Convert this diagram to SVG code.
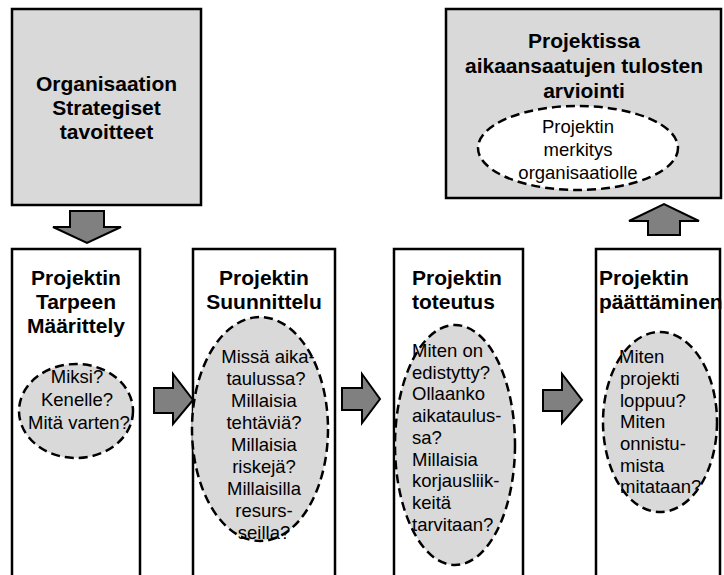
<svg xmlns="http://www.w3.org/2000/svg" width="724" height="575" viewBox="0 0 724 575">
<style>
.box{fill:#d9d9d9;stroke:#000;stroke-width:2.5}
.col{fill:#fff;stroke:#000;stroke-width:2.5}
.ell{fill:#d9d9d9;stroke:#000;stroke-width:2.5;stroke-dasharray:9 5}
.ellw{fill:#fff;stroke:#000;stroke-width:2.5;stroke-dasharray:9 5}
.arr{fill:#808080;stroke:#000;stroke-width:2;stroke-linejoin:miter}
text{font-family:"Liberation Sans",Arial,sans-serif;fill:#000}
.h{font-size:21px;font-weight:bold}
.t{font-size:18.5px}
.c{text-anchor:middle}
</style>
<rect width="724" height="575" fill="#fff"/>
<g id="strategy">
<rect class="box" x="12" y="9" width="189" height="196"/>
<text class="h c" x="106.5" y="91">Organisaation</text>
<text class="h c" x="106.5" y="115">Strategiset</text>
<text class="h c" x="106.5" y="139">tavoitteet</text>
</g>
<g id="evaluation">
<rect class="box" x="446" y="9" width="275" height="189"/>
<text class="h c" x="584" y="48">Projektissa</text>
<text class="h c" x="584" y="73">aikaansaatujen tulosten</text>
<text class="h c" x="584" y="98">arviointi</text>
<ellipse class="ellw" cx="578" cy="148" rx="100" ry="42"/>
<text class="t c" x="578" y="133">Projektin</text>
<text class="t c" x="578" y="156">merkitys</text>
<text class="t c" x="578" y="179">organisaatiolle</text>
</g>
<g id="definition">
<rect class="col" x="12" y="249" width="128" height="340"/>
<text class="h c" x="76" y="285">Projektin</text>
<text class="h c" x="76" y="309">Tarpeen</text>
<text class="h c" x="76" y="333">Määrittely</text>
<ellipse class="ell" cx="76" cy="411" rx="57" ry="47"/>
<text class="t c" x="77" y="383">Miksi?</text>
<text class="t c" x="77" y="406">Kenelle?</text>
<text class="t c" x="79" y="429">Mitä varten?</text>
</g>
<g id="planning">
<rect class="col" x="193" y="249" width="142" height="340"/>
<text class="h c" x="264" y="285">Projektin</text>
<text class="h c" x="264" y="309">Suunnittelu</text>
<ellipse class="ell" cx="260" cy="429" rx="68" ry="112"/>
<text class="t c" x="268" y="363">Missä aika-</text>
<text class="t c" x="266" y="385">taulussa?</text>
<text class="t c" x="264" y="407">Millaisia</text>
<text class="t c" x="264" y="429">tehtäviä?</text>
<text class="t c" x="264" y="451">Millaisia</text>
<text class="t c" x="264" y="473">riskejä?</text>
<text class="t c" x="264" y="495">Millaisilla</text>
<text class="t c" x="264" y="517">resurs-</text>
<text class="t c" x="264" y="539">seilla?</text>
</g>
<g id="implementation">
<rect class="col" x="394" y="249" width="129" height="340"/>
<text class="h" x="412" y="285">Projektin</text>
<text class="h" x="412" y="309">toteutus</text>
<ellipse class="ell" cx="455" cy="445" rx="60" ry="120"/>
<text class="t" x="412" y="357">Miten on</text>
<text class="t" x="412" y="379">edistytty?</text>
<text class="t" x="412" y="400">Ollaanko</text>
<text class="t" x="412" y="422">aikataulus-</text>
<text class="t" x="412" y="444">sa?</text>
<text class="t" x="412" y="466">Millaisia</text>
<text class="t" x="412" y="487">korjausliik-</text>
<text class="t" x="412" y="509">keitä</text>
<text class="t" x="412" y="531">tarvitaan?</text>
</g>
<g id="closing">
<rect class="col" x="596" y="249" width="124" height="340"/>
<text class="h" x="599" y="285">Projektin</text>
<text class="h" x="599" y="309">päättäminen</text>
<ellipse class="ell" cx="660" cy="422" rx="57" ry="90"/>
<text class="t" x="619" y="363">Miten</text>
<text class="t" x="620" y="385">projekti</text>
<text class="t" x="620" y="407">loppuu?</text>
<text class="t" x="620" y="428">Miten</text>
<text class="t" x="620" y="450">onnistu-</text>
<text class="t" x="620" y="472">mista</text>
<text class="t" x="620" y="493">mitataan?</text>
</g>
<g id="connectors">
<polygon class="arr" points="70,211 104,211 104,227 121,227 87,243 53,227 70,227"/>
<polygon class="arr" points="648,235 680,235 680,221 699,221 664,204 629,221 648,221"/>
<polygon class="arr" points="154,388 173,388 173,374 193,400 173,424 173,413 154,413"/>
<polygon class="arr" points="342,388 362,388 362,374 380,399 362,423 362,410 342,410"/>
<polygon class="arr" points="543,390 562,390 562,374 582,400 562,423 562,411 543,411"/>
</g>
</svg>
